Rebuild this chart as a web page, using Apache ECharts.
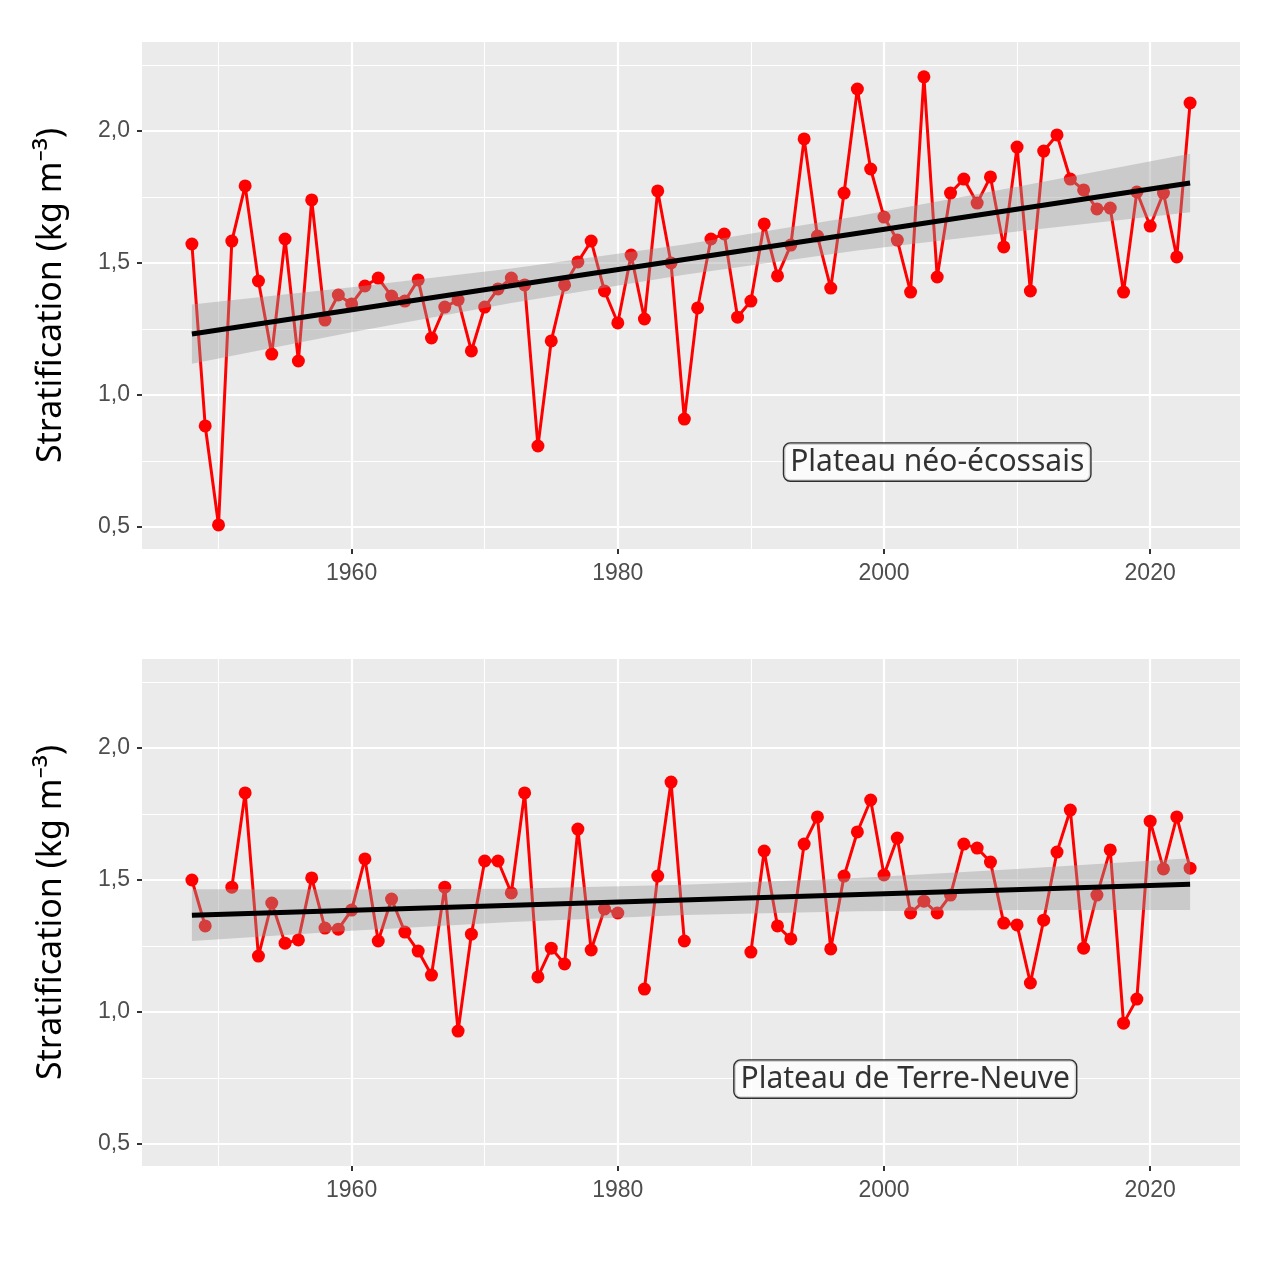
<!DOCTYPE html>
<html>
<head>
<meta charset="utf-8">
<script src="https://cdn.jsdelivr.net/npm/echarts@6/dist/echarts.min.js"></script>
<style>
  html, body { margin: 0; padding: 0; background: #fff; }
  #chart { width: 1280px; height: 1277px; }
</style>
</head>
<body>
<div id="chart"></div>
<script>
// annees 1948-2023
var years = [];
for (var y = 1948; y <= 2023; y++) years.push(y);

// Plateau neo-ecossais
var scotianValues = [
  1.572, 0.883, 0.508, 1.583, 1.792, 1.432, 1.155, 1.591, 1.129, 1.739,
  1.284, 1.379, 1.345, 1.413, 1.443, 1.375, 1.356, 1.436, 1.216, 1.333,
  1.360, 1.167, 1.333, 1.402, 1.443, 1.417, 0.807, 1.205, 1.417, 1.504,
  1.583, 1.394, 1.273, 1.530, 1.288, 1.773, 1.500, 0.909, 1.330, 1.591,
  1.610, 1.295, 1.356, 1.648, 1.451, 1.568, 1.970, 1.602, 1.405, 1.765,
  2.159, 1.856, 1.674, 1.587, 1.390, 2.205, 1.447, 1.765, 1.818, 1.727,
  1.826, 1.561, 1.939, 1.394, 1.924, 1.985, 1.818, 1.777, 1.705, 1.708,
  1.390, 1.769, 1.640, 1.765, 1.523, 2.106
];

// Plateau de Terre-Neuve (null = pas de donnee)
var nflValues = [
  1.500, 1.326, null, 1.473, 1.830, 1.212, 1.413, 1.261, 1.273, 1.508,
  1.318, 1.314, 1.386, 1.580, 1.269, 1.428, 1.303, 1.231, 1.140, 1.473,
  0.928, 1.295, 1.572, 1.572, 1.451, 1.830, 1.133, 1.242, 1.182, 1.693,
  1.235, 1.390, 1.375, null, 1.087, 1.515, 1.871, 1.269, null, null,
  null, null, 1.227, 1.610, 1.326, 1.277, 1.636, 1.739, 1.239, 1.515,
  1.682, 1.803, 1.519, 1.659, 1.375, 1.420, 1.375, 1.443, 1.636, 1.621,
  1.568, 1.337, 1.330, 1.110, 1.348, 1.606, 1.765, 1.242, 1.443, 1.614,
  0.958, 1.049, 1.723, 1.542, 1.739, 1.545
];

// tendance lineaire et intervalle de confiance
var trendYears = [1948, 2023];
var scotianTrend = [1.231, 1.803];
var nflTrend = [1.367, 1.484];

var bandYears = [1948, 1960, 1972, 1985, 1998, 2010, 2023];
var scotianLower = [1.119, 1.238, 1.349, 1.456, 1.547, 1.619, 1.692];
var scotianUpper = [1.343, 1.408, 1.479, 1.570, 1.677, 1.789, 1.914];
var nflLower = [1.269, 1.308, 1.341, 1.368, 1.382, 1.386, 1.386];
var nflUpper = [1.465, 1.464, 1.467, 1.482, 1.508, 1.542, 1.582];

var panelNames = ['Plateau néo-écossais', 'Plateau de Terre-Neuve'];
var labelPos = [[2004.0, 0.746], [2001.6, 0.746]];

var xMajor = [1960, 1980, 2000, 2020];
var xMinor = [1950, 1970, 1990, 2010];
var yMajor = [0.5, 1.0, 1.5, 2.0];
var yMinor = [0.75, 1.25, 1.75, 2.25];

var chart = echarts.init(document.getElementById('chart'));

function pairs(xs, vs) {
  return xs.map(function (x, i) { return [x, vs[i]]; });
}

var grids = [
  {left: 142, top: 42, width: 1098, height: 507},
  {left: 142, top: 659, width: 1098, height: 507}
];

var xAxes = [], yAxes = [], series = [];
var panels = [
  {values: scotianValues, trend: scotianTrend, lo: scotianLower, hi: scotianUpper},
  {values: nflValues, trend: nflTrend, lo: nflLower, hi: nflUpper}
];

panels.forEach(function (p, g) {
  grids[g].show = true;
  grids[g].backgroundColor = '#ebebeb';
  grids[g].borderWidth = 0;

  xAxes.push({
    type: 'value', gridIndex: g, min: 1944.25, max: 2026.75,
    axisLine: {show: false},
    axisTick: {show: true, length: 5, customValues: xMajor, lineStyle: {color: '#333', width: 2}},
    axisLabel: {customValues: xMajor, color: '#4d4d4d', fontSize: 23, margin: 13,
                fontFamily: 'Liberation Sans',
                formatter: function (v) { return String(v); }},
    splitLine: {show: true, lineStyle: {color: '#ffffff', width: 2.2}}
  });
  xAxes.push({
    type: 'value', gridIndex: g, min: 1944.25, max: 2026.75,
    axisLine: {show: false},
    axisTick: {show: false, customValues: xMinor},
    axisLabel: {show: false},
    splitLine: {show: true, lineStyle: {color: '#ffffff', width: 1.1}}
  });
  yAxes.push({
    type: 'value', gridIndex: g, min: 0.417, max: 2.337,
    name: 'Stratification (kg m⁻³)', nameLocation: 'middle', nameGap: 74,
    nameTextStyle: {color: '#000', fontSize: 34, fontFamily: 'Noto Sans'},
    axisLine: {show: false},
    axisTick: {show: true, length: 5, customValues: yMajor, lineStyle: {color: '#333', width: 2}},
    axisLabel: {customValues: yMajor, color: '#4d4d4d', fontSize: 23, margin: 12,
                fontFamily: 'Liberation Sans',
                formatter: function (v) { return v.toFixed(1).replace('.', ','); }},
    splitLine: {show: true, lineStyle: {color: '#ffffff', width: 2.2}}
  });
  yAxes.push({
    type: 'value', gridIndex: g, min: 0.417, max: 2.337,
    axisLine: {show: false},
    axisTick: {show: false, customValues: yMinor},
    axisLabel: {show: false},
    splitLine: {show: true, lineStyle: {color: '#ffffff', width: 1.1}}
  });

  var xi = g * 2, yi = g * 2;

  series.push({
    type: 'line', xAxisIndex: xi, yAxisIndex: yi, z: 2,
    data: pairs(years, p.values),
    connectNulls: false,
    symbol: 'circle', symbolSize: 13, showSymbol: true,
    lineStyle: {color: '#ff0000', width: 3},
    itemStyle: {color: '#ff0000'},
    emphasis: {disabled: true},
    animation: false
  });
  // bande de confiance
  series.push({
    type: 'custom', xAxisIndex: xi, yAxisIndex: yi, z: 3,
    data: [[bandYears[0], p.lo[0]]],
    renderItem: function (params, api) {
      var pts = [];
      for (var i = 0; i < bandYears.length; i++) pts.push(api.coord([bandYears[i], p.hi[i]]));
      for (var j = bandYears.length - 1; j >= 0; j--) pts.push(api.coord([bandYears[j], p.lo[j]]));
      return {
        type: 'polygon',
        shape: {points: pts},
        style: {fill: 'rgba(153,153,153,0.4)', stroke: null}
      };
    },
    silent: true,
    animation: false
  });
  series.push({
    type: 'line', xAxisIndex: xi, yAxisIndex: yi, z: 4,
    data: pairs(trendYears, p.trend),
    symbol: 'none', lineStyle: {color: '#000', width: 5},
    animation: false
  });
  series.push({
    type: 'scatter', xAxisIndex: xi, yAxisIndex: yi, z: 5,
    data: [labelPos[g]],
    symbolSize: 0,
    label: {
      show: true, position: 'inside',
      formatter: panelNames[g],
      color: '#000', fontSize: 30, fontFamily: 'Noto Sans',
      backgroundColor: '#fff', borderColor: '#000', borderWidth: 1.4, borderRadius: 6,
      padding: [4, 6, 3, 6]
    },
    animation: false
  });
});

chart.setOption({
  animation: false,
  grid: grids,
  xAxis: xAxes,
  yAxis: yAxes,
  series: series
});
</script>
</body>
</html>
